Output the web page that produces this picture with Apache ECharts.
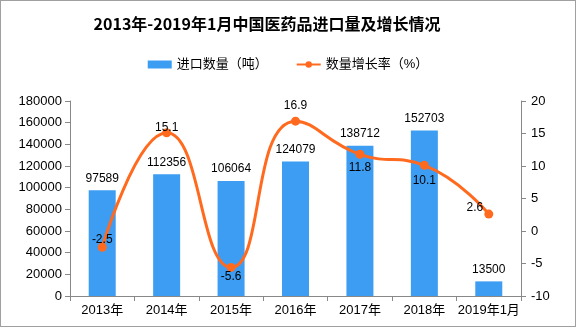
<!DOCTYPE html>
<html><head><meta charset="utf-8">
<script src="https://cdn.jsdelivr.net/npm/echarts@6/dist/echarts.min.js"></script>
<style>html,body{margin:0;padding:0;background:#fff}#c{width:574px;height:325px;border:1px solid #a0a0a0}</style>
</head><body><div id="c"></div>
<script>
const categories = ['2013年','2014年','2015年','2016年','2017年','2018年','2019年1月'];
const importVolume = [97589,112356,106064,124079,138712,152703,13500];
const growthRate = [-2.5,15.1,-5.6,16.9,11.8,10.1,2.6];
const labelPos = [
  {position:'top', offset:[0,8]},
  {position:'top', offset:[0,10]},
  {position:'bottom', offset:[0,-6]},
  {position:'top', offset:[0,0]},
  {position:'bottom', offset:[0,-2]},
  {position:'bottom', offset:[0,0]},
  {position:'left', offset:[4,-6]}
];
const chart = echarts.init(document.getElementById('c'));
const font = '"Liberation Sans","Noto Sans CJK SC",sans-serif';
chart.setOption({
  animation:false,
  title:{text:'2013年-2019年1月中国医药品进口量及增长情况', left:261, top:10, textAlign:'center',
    textStyle:{fontSize:16,fontWeight:'bold',color:'#000',fontFamily:'"Noto Sans CJK SC",sans-serif'}},
  legend:{left:'center', top:52, itemGap:28, itemWidth:24, itemHeight:8,
    textStyle:{fontSize:13,color:'#000',fontFamily:font},
    data:[{name:'进口数量（吨）',icon:'rect'},{name:'数量增长率（%）'}]},
  grid:{left:69,right:54,top:100,bottom:30},
  xAxis:{type:'category',data:categories,
    axisLine:{lineStyle:{color:'#888'}},
    axisTick:{show:true,alignWithLabel:false,lineStyle:{color:'#888'}},
    axisLabel:{interval:0,hideOverlap:false,color:'#000',fontSize:13,fontFamily:font,margin:8}},
  yAxis:[
    {type:'value',min:0,max:180000,interval:20000,
      axisLine:{show:true,lineStyle:{color:'#888'}},axisTick:{show:true,lineStyle:{color:'#888'}},
      splitLine:{show:false},axisLabel:{formatter:v=>String(v),color:'#000',fontSize:13,fontFamily:font,margin:8}},
    {type:'value',min:-10,max:20,interval:5,
      axisLine:{show:true,lineStyle:{color:'#888'}},axisTick:{show:true,lineStyle:{color:'#888'}},
      splitLine:{show:false},axisLabel:{formatter:v=>String(v),color:'#000',fontSize:13,fontFamily:font,margin:10}}
  ],
  series:[
    {name:'进口数量（吨）',type:'bar',data:importVolume,barWidth:27,
      itemStyle:{color:'#3d9df2'},
      label:{show:true,position:'top',color:'#000',fontSize:12,fontFamily:font,distance:6}},
    {name:'数量增长率（%）',type:'line',yAxisIndex:1,smooth:true,
      data:growthRate.map((v,i)=>({value:v,label:labelPos[i]})),
      symbol:'circle',symbolSize:9,
      lineStyle:{color:'#ff6a1f',width:3},itemStyle:{color:'#ff6a1f'},
      label:{show:true,color:'#000',fontSize:12,fontFamily:font}}
  ]
});
</script></body></html>
